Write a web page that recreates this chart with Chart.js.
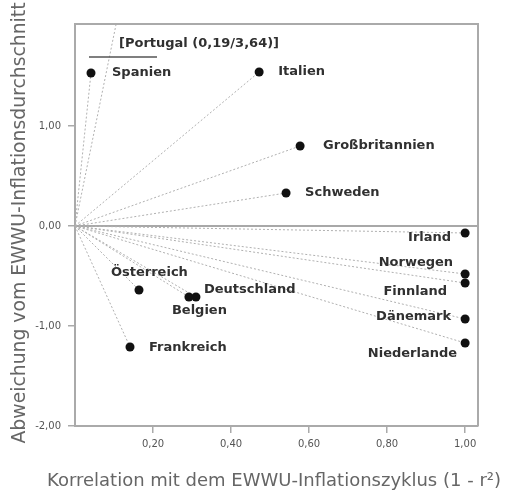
<!DOCTYPE html>
<html><head><meta charset="utf-8">
<script src="https://cdn.jsdelivr.net/npm/chart.js@4"></script>
<style>html,body{margin:0;padding:0;background:#fff}#wrap{width:506px;height:494px}</style>
</head><body><div id="wrap"><canvas id="c" width="506" height="494"></canvas></div>
<script>
// ---- data ----
const countries = ['Spanien','Italien','Großbritannien','Schweden','Irland','Norwegen','Finnland','Dänemark','Niederlande','Österreich','Deutschland','Belgien','Frankreich'];
const correlation = [0.041,0.472,0.577,0.541,1.0,1.0,1.0,1.0,1.0,0.164,0.310,0.292,0.141];
const deviation = [1.53,1.54,0.80,0.33,-0.07,-0.48,-0.57,-0.93,-1.17,-0.64,-0.71,-0.71,-1.21];
const outlierName = 'Portugal';
const outlierX = 0.19;
const outlierY = 3.64;
const xTicks = [0.2,0.4,0.6,0.8,1.0];
const yTicks = [-2,-1,0,1];
const xTitle = 'Korrelation mit dem EWWU-Inflationszyklus (1 - r²)';
const yTitle = 'Abweichung vom EWWU-Inflationsdurchschnitt';

// ---- presentation ----
const fmt = v => v.toFixed(2).replace('.', ',');
const labelPlacement = {
  'Spanien':[21,0,'left'], 'Italien':[19,0,'left'], 'Großbritannien':[23,0,'left'],
  'Schweden':[19,0,'left'], 'Irland':[-14,5,'right'], 'Norwegen':[-12,-11,'right'],
  'Finnland':[-18,9,'right'], 'Dänemark':[-14,-2,'right'], 'Niederlande':[-8,11,'right'],
  'Österreich':[-28,-17,'left'], 'Deutschland':[8,-7,'left'], 'Belgien':[-17,14,'left'],
  'Frankreich':[19,1,'left']
};
const axisGray = '#aaaaaa';

const rayDatasets = countries.map((c, i) => ({
  type: 'line', label: c,
  data: [{x:0, y:0}, {x: correlation[i], y: deviation[i]}],
  borderColor: '#b0b0b0', borderWidth: 1, borderDash: [2,2],
  pointRadius: 0, fill: false, order: 2
}));
rayDatasets.push({
  type: 'line', label: outlierName,
  data: [{x:0, y:0}, {x: outlierX, y: outlierY}],
  borderColor: '#b0b0b0', borderWidth: 1, borderDash: [2,2],
  pointRadius: 0, fill: false, order: 2
});
const pointDataset = {
  type: 'scatter', label: 'Länder',
  data: countries.map((c, i) => ({x: correlation[i], y: deviation[i]})),
  backgroundColor: '#111', borderWidth: 0, pointRadius: 4.5, order: 1
};

const decor = {
  id: 'decor',
  beforeDatasetsDraw(chart) {
    const {ctx, chartArea: a, scales} = chart;
    const y0 = scales.y.getPixelForValue(0);
    ctx.save();
    ctx.strokeStyle = '#a8a8a8'; ctx.lineWidth = 2;
    ctx.beginPath(); ctx.moveTo(a.left, y0); ctx.lineTo(a.right, y0); ctx.stroke();
    ctx.restore();
  },
  afterDraw(chart) {
    const {ctx, chartArea: a} = chart;
    ctx.save();
    // frame
    ctx.strokeStyle = axisGray; ctx.lineWidth = 2;
    ctx.beginPath();
    ctx.moveTo(a.left, a.top); ctx.lineTo(a.right, a.top); ctx.lineTo(a.right, a.bottom);
    ctx.stroke();
    // point labels
    const meta = chart.getDatasetMeta(chart.data.datasets.length - 1);
    ctx.font = 'bold 13px "DejaVu Sans"';
    ctx.fillStyle = '#303030';
    ctx.textBaseline = 'middle';
    countries.forEach((c, i) => {
      const el = meta.data[i];
      const p = labelPlacement[c];
      ctx.textAlign = p[2];
      ctx.fillText(c, el.x + p[0], el.y + p[1]);
    });
    // outlier annotation
    ctx.textAlign = 'left';
    ctx.fillText('[' + outlierName + ' (' + fmt(outlierX) + '/' + fmt(outlierY) + ')]', a.left + 44, a.top + 20);
    ctx.strokeStyle = '#555'; ctx.lineWidth = 1.5;
    ctx.beginPath(); ctx.moveTo(a.left + 14, a.top + 33); ctx.lineTo(a.left + 82, a.top + 33); ctx.stroke();
    // axis titles
    ctx.fillStyle = '#666';
    ctx.textAlign = 'center';
    ctx.font = '18px "DejaVu Sans"';
    ctx.fillText(xTitle, 274, 481);
    ctx.font = '18.8px "DejaVu Sans"';
    ctx.translate(20, 223);
    ctx.rotate(-Math.PI / 2);
    ctx.fillText(yTitle, 0, 0);
    ctx.restore();
  }
};

new Chart(document.getElementById('c'), {
  data: { datasets: [...rayDatasets, pointDataset] },
  options: {
    responsive: false, animation: false, devicePixelRatio: 1,
    layout: { padding: { top: 24, right: 28, left: 0, bottom: 0 } },
    plugins: { legend: { display: false }, tooltip: { enabled: false } },
    scales: {
      x: {
        type: 'linear', min: 0, max: 1.033,
        afterBuildTicks: s => { s.ticks = xTicks.map(v => ({value: v})); },
        afterFit: s => { s.height = 68; },
        ticks: { callback: v => fmt(v), font: { family: 'DejaVu Sans', size: 10 }, color: '#555', padding: 5, maxRotation: 0, autoSkip: false },
        grid: { drawOnChartArea: false, tickLength: 7, color: axisGray, lineWidth: 1.5 },
        border: { color: axisGray, width: 2 }
      },
      y: {
        type: 'linear', min: -2, max: 2.02,
        afterBuildTicks: s => { s.ticks = yTicks.map(v => ({value: v})); },
        afterFit: s => { s.width = 75; },
        ticks: { callback: v => fmt(v), font: { family: 'DejaVu Sans', size: 10 }, color: '#555', padding: 7, autoSkip: false },
        grid: { drawOnChartArea: false, tickLength: 7, color: axisGray, lineWidth: 1.5 },
        border: { color: axisGray, width: 2 }
      }
    }
  },
  plugins: [decor]
});
</script>
</body></html>
